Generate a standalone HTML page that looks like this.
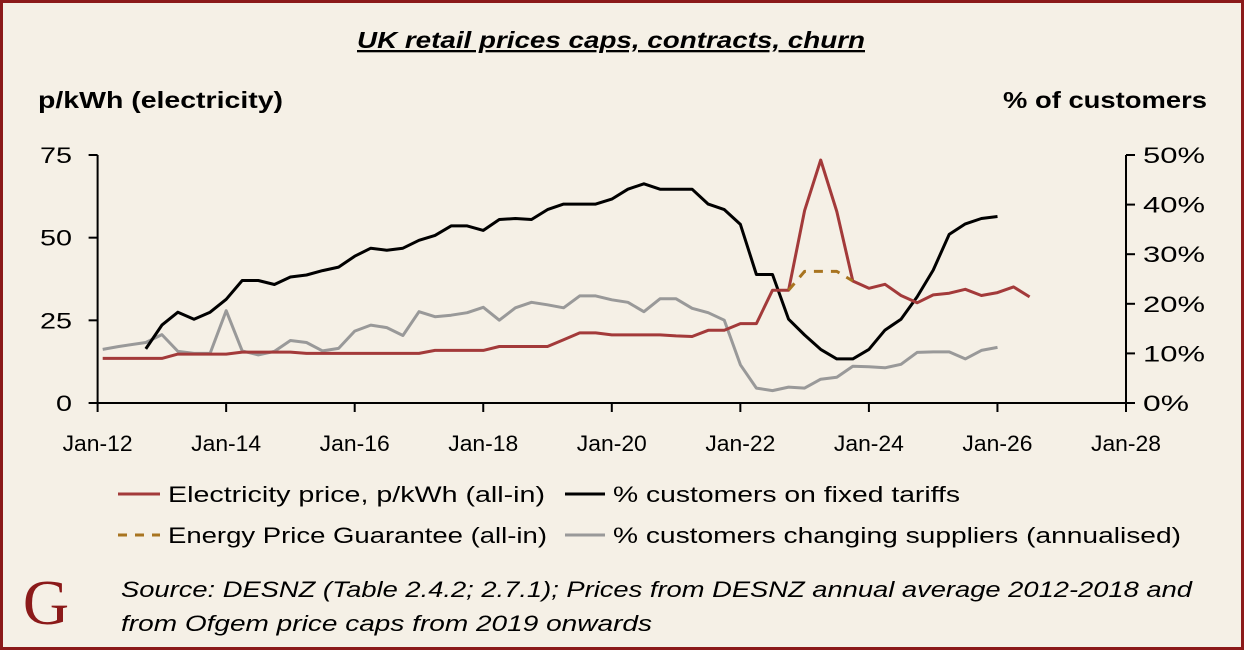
<!DOCTYPE html>
<html><head><meta charset="utf-8"><style>
html,body{margin:0;padding:0;background:#fff;}
svg{display:block;}
text{font-family:"Liberation Sans",sans-serif;fill:#000;}
</style></head><body>
<svg id="chart" width="1245" height="659" viewBox="0 0 1245 659">
<rect x="1.5" y="1.5" width="1241" height="647" fill="#f5f0e6" stroke="#8b1a1a" stroke-width="3"/>
<text x="357" y="48" textLength="508" lengthAdjust="spacingAndGlyphs" font-size="23" font-weight="bold" font-style="italic" text-decoration="underline">UK retail prices caps, contracts, churn</text>
<text x="38" y="108" textLength="245" lengthAdjust="spacingAndGlyphs" font-size="23" font-weight="bold">p/kWh (electricity)</text>
<text x="1003" y="108" textLength="204" lengthAdjust="spacingAndGlyphs" font-size="23" font-weight="bold">% of customers</text>
<g id="axes"></g>
<g id="series"></g>
<g>
<line x1="118" y1="494" x2="160" y2="494" stroke="#a33a3a" stroke-width="3"/>
<text x="168" y="502" textLength="377" lengthAdjust="spacingAndGlyphs" font-size="22">Electricity price, p/kWh (all-in)</text>
<line x1="565" y1="494" x2="605" y2="494" stroke="#000" stroke-width="3"/>
<text x="613" y="502" textLength="347" lengthAdjust="spacingAndGlyphs" font-size="22">% customers on fixed tariffs</text>
<line x1="118" y1="535" x2="160" y2="535" stroke="#a87420" stroke-width="3" stroke-dasharray="9,8"/>
<text x="168" y="543" textLength="379" lengthAdjust="spacingAndGlyphs" font-size="22">Energy Price Guarantee (all-in)</text>
<line x1="565" y1="535" x2="605" y2="535" stroke="#999" stroke-width="3"/>
<text x="613" y="543" textLength="568" lengthAdjust="spacingAndGlyphs" font-size="22">% customers changing suppliers (annualised)</text>
</g>
<text x="46" y="624" text-anchor="middle" font-size="64" style="font-family:'Liberation Serif',serif;fill:#8b1a1a">G</text>
<text x="121" y="597" textLength="1071" lengthAdjust="spacingAndGlyphs" font-size="22" font-style="italic">Source: DESNZ (Table 2.4.2; 2.7.1); Prices from DESNZ annual average 2012-2018  and</text>
<text x="121" y="631" textLength="531" lengthAdjust="spacingAndGlyphs" font-size="22" font-style="italic">from Ofgem price caps from 2019 onwards</text>
</svg>
<script>
const xTickLabels=["Jan-12","Jan-14","Jan-16","Jan-18","Jan-20","Jan-22","Jan-24","Jan-26","Jan-28"];
const xTickYears=[2012,2014,2016,2018,2020,2022,2024,2026,2028];
const leftTicks=[0,25,50,75];
const rightTicks=[0,10,20,30,40,50];
const priceDates=[2012.08,2013.0,2013.25,2014.0,2014.25,2015.0,2015.25,2017.0,2017.25,2018.0,2018.25,2019.0,2019.25,2019.5,2019.75,2020.0,2020.25,2020.5,2020.75,2021.0,2021.25,2021.5,2021.75,2022.0,2022.25,2022.5,2022.75,2023.0,2023.25,2023.5,2023.75,2024.0,2024.25,2024.5,2024.75,2025.0,2025.25,2025.5,2025.75,2026.0,2026.25,2026.5];
const priceValues=[13.5,13.5,14.8,14.8,15.4,15.4,15.0,15.0,15.9,15.9,17.1,17.1,19.1,21.2,21.2,20.6,20.6,20.6,20.6,20.3,20.1,22.0,22.0,24.0,24.0,34.1,34.1,58.2,73.5,57.9,36.9,34.7,35.9,32.5,30.3,32.7,33.2,34.4,32.5,33.4,35.1,32.1];
const epgDates=[2022.75,2023.0,2023.25,2023.5,2023.75];
const epgValues=[34.1,39.8,39.8,39.8,36.9];
const fixedDates=[2012.75,2013.0,2013.25,2013.5,2013.75,2014.0,2014.25,2014.5,2014.75,2015.0,2015.25,2015.5,2015.75,2016.0,2016.25,2016.5,2016.75,2017.0,2017.25,2017.5,2017.75,2018.0,2018.25,2018.5,2018.75,2019.0,2019.25,2019.5,2019.75,2020.0,2020.25,2020.5,2020.75,2021.0,2021.25,2021.5,2021.75,2022.0,2022.25,2022.5,2022.75,2023.0,2023.25,2023.5,2023.75,2024.0,2024.25,2024.5,2024.75,2025.0,2025.25,2025.5,2025.75,2026.0];
const fixedValues=[10.9,15.7,18.3,16.9,18.3,20.9,24.7,24.7,23.9,25.4,25.8,26.7,27.4,29.6,31.2,30.8,31.2,32.8,33.8,35.7,35.7,34.8,37.0,37.2,37.0,39.0,40.1,40.1,40.1,41.1,43.1,44.2,43.1,43.1,43.1,40.1,39.0,36.0,25.9,25.9,16.9,13.7,10.8,8.9,8.9,10.8,14.7,16.9,21.4,26.8,34.0,36.1,37.2,37.6];
const switchDates=[2012.08,2012.33,2012.75,2013.0,2013.25,2013.5,2013.75,2014.0,2014.25,2014.5,2014.75,2015.0,2015.25,2015.5,2015.75,2016.0,2016.25,2016.5,2016.75,2017.0,2017.25,2017.5,2017.75,2018.0,2018.25,2018.5,2018.75,2019.0,2019.25,2019.5,2019.75,2020.0,2020.25,2020.5,2020.75,2021.0,2021.25,2021.5,2021.75,2022.0,2022.25,2022.5,2022.75,2023.0,2023.25,2023.5,2023.75,2024.0,2024.25,2024.5,2024.75,2025.0,2025.25,2025.5,2025.75,2026.0];
const switchValues=[10.8,11.4,12.2,13.8,10.4,10.0,10.0,18.6,10.5,9.7,10.4,12.6,12.2,10.5,11.0,14.5,15.7,15.2,13.6,18.4,17.4,17.7,18.2,19.3,16.7,19.2,20.3,19.8,19.2,21.6,21.6,20.8,20.3,18.4,21.0,21.0,19.1,18.2,16.7,7.7,3.0,2.5,3.2,3.0,4.8,5.2,7.4,7.3,7.1,7.8,10.2,10.3,10.3,8.9,10.6,11.2];

const X0=97.6,X1=1126,Y0=403,Y1=155;
const xs=y=>X0+(y-2012)/16*(X1-X0);
const yl=v=>Y0-v/75*(Y0-Y1);
const yr=v=>Y0-v/50*(Y0-Y1);
const NS="http://www.w3.org/2000/svg";
function mk(tag,attrs,parent){const e=document.createElementNS(NS,tag);for(const k in attrs)e.setAttribute(k,attrs[k]);parent.appendChild(e);return e;}
const axes=document.getElementById('axes'),series=document.getElementById('series');
let el=mk('line',{x1:X0,y1:Y0,x2:X1+2,y2:Y0,stroke:'#000','stroke-width':2},axes);


el=mk('line',{x1:X0,y1:Y1,x2:X0,y2:Y0,stroke:'#000','stroke-width':2},axes);


el=mk('line',{x1:X1,y1:Y1,x2:X1,y2:Y0,stroke:'#000','stroke-width':2},axes);


xTickYears.forEach((yr_,i)=>{
  const x=xs(yr_);
  el=mk('line',{x1:x,y1:Y0,x2:x,y2:Y0+9,stroke:'#000','stroke-width':2},axes);
  
  
  el=mk('text',{x:x-35,y:Y0+48,textLength:70,lengthAdjust:'spacingAndGlyphs','font-size':22},axes);
  el.textContent=xTickLabels[i];
  
  
});
leftTicks.forEach(v=>{
  const y=yl(v);
  el=mk('line',{x1:X0-9,y1:y,x2:X0,y2:y,stroke:'#000','stroke-width':2},axes);
  
  
  const w=v<10?16:32;
  el=mk('text',{x:72-w,y:y+8,textLength:w,lengthAdjust:'spacingAndGlyphs','font-size':22},axes);
  el.textContent=v;
  
  
});
rightTicks.forEach(v=>{
  const y=yr(v);
  el=mk('line',{x1:X1,y1:y,x2:X1+9,y2:y,stroke:'#000','stroke-width':2},axes);
  
  
  const w=v<10?46:62;
  el=mk('text',{x:1143,y:y+8,textLength:w,lengthAdjust:'spacingAndGlyphs','font-size':22},axes);
  el.textContent=v+'%';
  
  
});
function line(d,v,sc,color,dash,name){
  const pts=d.map((t,i)=>xs(t).toFixed(1)+','+sc(v[i]).toFixed(1)).join(' ');
  const a={points:pts,fill:'none',stroke:color,'stroke-width':3,'stroke-linejoin':'round'};
  if(dash)a['stroke-dasharray']=dash;
  const p=mk('polyline',a,series);
  
  
}
line(switchDates,switchValues,yr,'#999',null,'switching-line');
line(fixedDates,fixedValues,yr,'#000',null,'fixed-tariff-line');
line(priceDates,priceValues,yl,'#a33a3a',null,'electricity-price-line');
line(epgDates,epgValues,yl,'#a87420','9,8','epg-line');
</script>
</body></html>
